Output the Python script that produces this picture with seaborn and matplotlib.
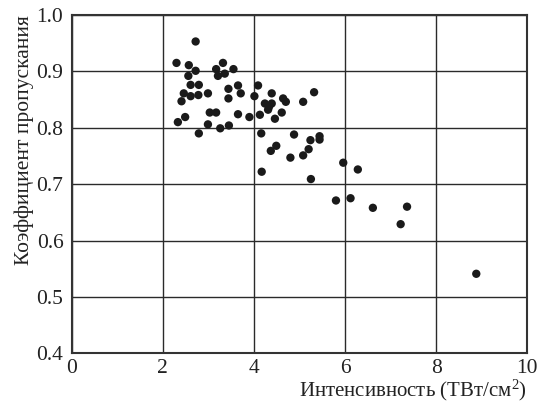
import seaborn as sns
import matplotlib.pyplot as plt
import pandas as pd

# intensity (TW/cm^2) and transmission
intensity = [2.72, 2.30, 2.57, 2.72, 2.56, 3.17, 3.32, 3.21, 3.36, 3.55,
             2.61, 2.79, 2.46, 2.41, 2.61, 2.78, 2.99, 3.44, 3.44, 3.65,
             3.71, 4.09, 4.01, 4.39, 4.24, 4.33, 4.39, 4.31, 4.64, 4.70,
             4.61, 4.46, 4.13, 3.90, 3.65, 5.08, 5.32, 2.33, 2.49, 3.03,
             3.17, 2.99, 3.26, 3.45, 2.79, 4.16, 4.88, 5.44, 5.44, 5.24,
             4.49, 4.37, 4.80, 5.08, 5.20, 4.17, 5.25, 5.96, 6.28, 5.80,
             6.12, 6.61, 7.36, 7.22, 8.88]
transmission = [0.953, 0.915, 0.911, 0.901, 0.892, 0.904, 0.915, 0.892, 0.896, 0.904,
                0.876, 0.876, 0.861, 0.847, 0.856, 0.858, 0.861, 0.869, 0.852, 0.875,
                0.861, 0.875, 0.856, 0.861, 0.843, 0.837, 0.843, 0.832, 0.852, 0.846,
                0.827, 0.816, 0.823, 0.819, 0.824, 0.846, 0.863, 0.810, 0.819, 0.827,
                0.827, 0.806, 0.799, 0.804, 0.790, 0.790, 0.788, 0.785, 0.779, 0.778,
                0.768, 0.759, 0.747, 0.751, 0.762, 0.722, 0.709, 0.738, 0.726, 0.671,
                0.675, 0.658, 0.660, 0.629, 0.541]
x_ticks = [0, 2, 4, 6, 8, 10]
y_ticks = [0.4, 0.5, 0.6, 0.7, 0.8, 0.9, 1.0]

df = pd.DataFrame({"x": intensity, "y": transmission})

sns.set_style("white")
plt.rcParams['font.family'] = ['Liberation Serif', 'DejaVu Serif']
plt.rcParams['mathtext.fontset'] = 'custom'
plt.rcParams['mathtext.rm'] = 'Liberation Serif'
plt.rcParams['mathtext.it'] = 'Liberation Serif'

fig = plt.figure(figsize=(5.4, 4.05), dpi=100)
ax = fig.add_axes([0.1328, 0.1277, 0.8437, 0.8353])

sns.scatterplot(data=df, x="x", y="y", ax=ax, s=36, color="#1a1a1a",
                edgecolor="none", zorder=3)

ax.set_xlim(0, 10)
ax.set_ylim(0.4, 1.0)
ax.set_xticks(x_ticks)
ax.set_yticks(y_ticks)
ax.set_xticklabels([str(t) for t in x_ticks])
ax.set_yticklabels(["%.1f" % t for t in y_ticks])
ax.grid(True, color="#2a2a2a", linewidth=1.0)
ax.set_axisbelow(True)
for sp in ax.spines.values():
    sp.set_color("#333333")
    sp.set_linewidth(1.5)
ax.tick_params(length=0, labelsize=15.5, colors="#222222")
ax.tick_params(axis="y", pad=6)
ax.tick_params(axis="x", pad=4)

ax.set_xlabel(r"Интенсивность (ТВт/см$^2$)", fontsize=15, loc="right",
              color="#222222", labelpad=0)
ax.set_ylabel("Коэффициент пропускания", fontsize=15.5, loc="top",
              color="#222222", labelpad=2)

fig.savefig("out.png", dpi=100)
